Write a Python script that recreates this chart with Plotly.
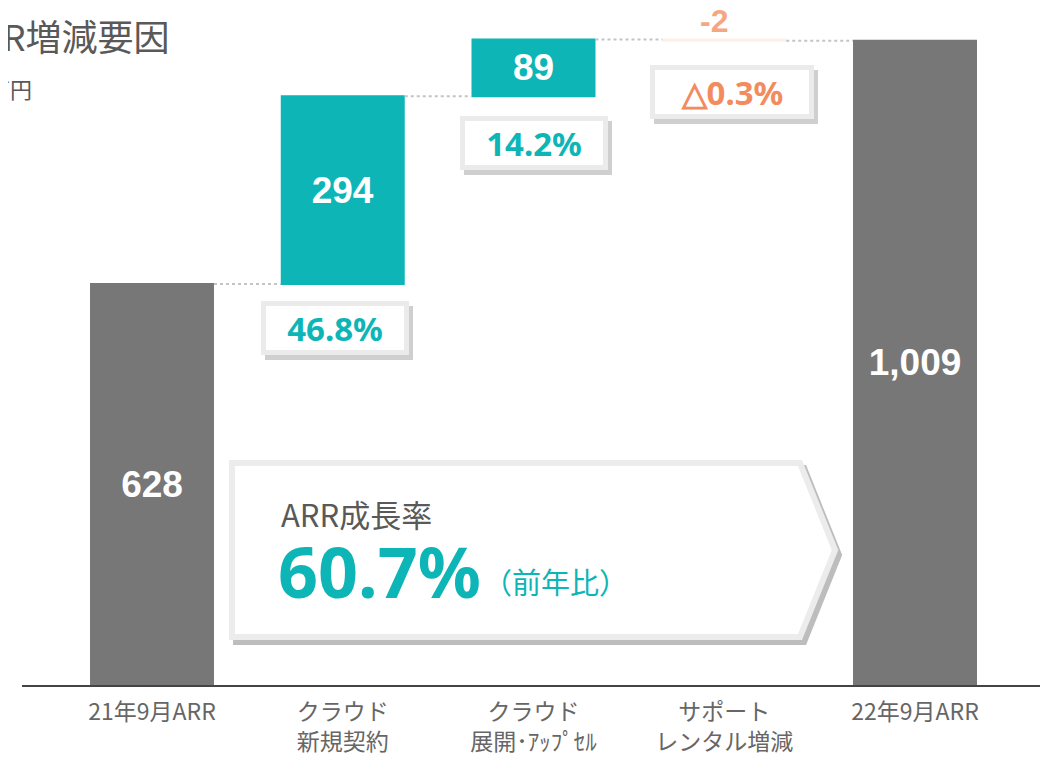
import plotly.graph_objects as go

# data
categories = ["21年9月ARR", "クラウド<br>新規契約", "クラウド<br>展開･ｱｯﾌﾟｾﾙ", "サポート<br>レンタル増減", "22年9月ARR"]
values = [628, 294, 89, -2, 1009]
measures = ["absolute", "relative", "relative", "relative", "total"]
bar_labels = ["628", "294", "89", "", "1,009"]
pct_labels = ["", "46.8%", "14.2%", "△0.3%", ""]
growth_rate = "60.7%"

TEAL = "#0db5b6"
GRAY = "#777777"
ORANGE = "#f5a782"
ORANGE_DARK = "#f28b5e"
TXT = "#595959"

W, H = 1048, 757
OFF = 8  # page body margin
L, R, T, B = 22 - OFF, 0, 0, H - (685 - OFF)
PW, PH = W - L - R, H - T - B
X0 = 152 - OFF   # pixel of first category
DX = 190.75      # pixels per category
PXV = 0.6385     # pixels per value unit


def px(x):
    return (x - OFF - L) / PW


def py(y):
    return (H - B - (y - OFF)) / PH


xs = list(range(len(categories)))

fig = go.Figure()
fig.add_trace(go.Waterfall(
    x=xs, y=values, measure=measures,
    width=0.65,
    text=bar_labels, textposition="inside", insidetextanchor="middle",
    textfont=dict(family="Liberation Sans", size=37, color="white", weight="bold"),
    increasing=dict(marker=dict(color=TEAL)),
    decreasing=dict(marker=dict(color="#fdf0e9")),
    totals=dict(marker=dict(color=GRAY)),
    connector=dict(mode="between", line=dict(color="#c4c4c4", width=2, dash="dot")),
    hoverinfo="skip",
))

# running bases for the labels
running = 0
bases, tops = [], []
for v, m in zip(values, measures):
    if m == "absolute":
        bases.append(0); running = v; tops.append(v)
    elif m == "total":
        bases.append(0); tops.append(running)
    else:
        bases.append(min(running, running + v)); tops.append(max(running, running + v)); running += v

annotations = []
# small value above the decreasing bar
for i, v in enumerate(values):
    if measures[i] == "relative" and v < 0:
        annotations.append(dict(x=xs[i], y=tops[i], xref="x", yref="y", text=str(v), showarrow=False,
                                yanchor="middle", yshift=18, xshift=-10,
                                font=dict(family="Liberation Sans", size=32, color=ORANGE, weight="bold")))

# percentage boxes under each movement
box_xshift = {1: -8, 2: 0, 3: 8}
box_yshift = {1: -17, 2: -20, 3: -24}
for i, lab in enumerate(pct_labels):
    if not lab:
        continue
    col = ORANGE_DARK if values[i] < 0 else TEAL
    w = 150 if values[i] < 0 else 134
    sx = box_xshift.get(i, 0)
    sy = box_yshift.get(i, -18)
    # shadow
    annotations.append(dict(x=xs[i], y=bases[i], xref="x", yref="y", text="", showarrow=False,
                            yanchor="top", xshift=sx + 4, yshift=sy - 5, width=w, height=40,
                            bgcolor="#b8b8b8", bordercolor="#cfcfcf", borderwidth=5, borderpad=2))
    annotations.append(dict(x=xs[i], y=bases[i], xref="x", yref="y", text=lab, showarrow=False,
                            yanchor="top", xshift=sx, yshift=sy, width=w, height=40,
                            bgcolor="white", bordercolor="#ebebeb", borderwidth=5, borderpad=2,
                            font=dict(family="Noto Sans", size=33, color=col, weight="bold")))

# title and unit (cut off at the left edge like the slide)
annotations.append(dict(x=px(172), y=py(35), xref="paper", yref="paper", text="ARR増減要因", showarrow=False,
                        xanchor="right", yanchor="middle",
                        font=dict(family="Noto Sans CJK JP", size=36, color=TXT)))
annotations.append(dict(x=px(34), y=py(88), xref="paper", yref="paper", text="百万円", showarrow=False,
                        xanchor="right", yanchor="middle",
                        font=dict(family="Noto Sans CJK JP", size=22, color=TXT)))

# growth-rate callout text
annotations.append(dict(x=px(279), y=py(513), xref="paper", yref="paper", text="ARR成長率", showarrow=False,
                        xanchor="left", yanchor="middle",
                        font=dict(family="Noto Sans CJK JP", size=31, color=TXT)))
annotations.append(dict(x=px(276), y=py(571), xref="paper", yref="paper", text=growth_rate, showarrow=False,
                        xanchor="left", yanchor="middle",
                        font=dict(family="Noto Sans", size=70, color=TEAL, weight="bold")))
annotations.append(dict(x=px(481), y=py(581), xref="paper", yref="paper", text="（前年比）", showarrow=False,
                        xanchor="left", yanchor="middle",
                        font=dict(family="Noto Sans CJK JP", size=29, color=TEAL)))


def arrow_path(dx=0, dy=0):
    pts = [(232, 463), (800, 463), (835, 550), (800, 637), (232, 637)]
    s = "M " + " L ".join(f"{px(x + dx):.4f},{py(y + dy):.4f}" for x, y in pts) + " Z"
    return s


shapes = [
    dict(type="path", path=arrow_path(4, 5), xref="paper", yref="paper",
         fillcolor="#bdbdbd", line=dict(color="#bdbdbd", width=6), layer="above"),
    dict(type="path", path=arrow_path(), xref="paper", yref="paper",
         fillcolor="white", line=dict(color="#ececec", width=6), layer="above"),
]

fig.update_layout(
    width=W, height=H,
    margin=dict(l=L, r=R, t=T, b=B),
    paper_bgcolor="white", plot_bgcolor="white",
    showlegend=False,
    annotations=annotations,
    shapes=shapes,
    xaxis=dict(range=[(L - X0) / DX, (L + PW - X0) / DX],
               tickvals=xs, ticktext=categories, showgrid=False, zeroline=False,
               showline=True, linecolor="#444444", linewidth=2, ticks="",
               ticklabelstandoff=5,
               tickfont=dict(family="Noto Sans CJK JP", size=23, color="#666666")),
    yaxis=dict(range=[0, PH / PXV], visible=False, showgrid=False, zeroline=False),
)

fig.write_html("out.html")
